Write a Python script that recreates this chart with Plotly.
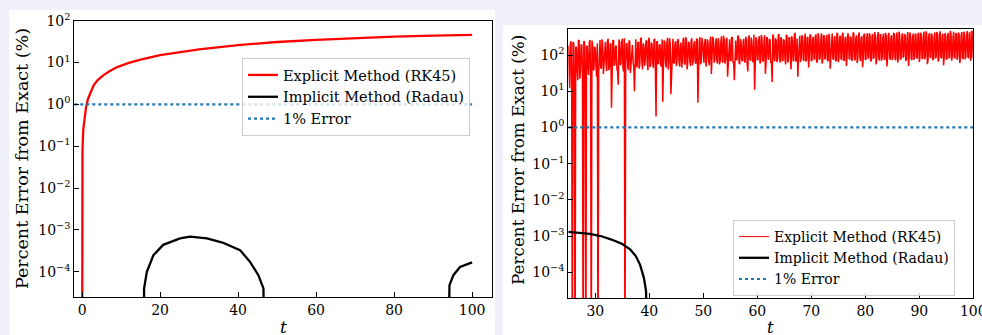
import plotly.graph_objects as go

W, H = 982, 335
FONT = "DejaVu Serif, serif"

# ---------------- data: left panel ----------------
t_exp_left = [0, 0.02, 0.1, 0.3, 0.6, 1.0, 1.5, 2.2, 3, 4, 5.5, 7, 9, 12, 15, 20, 25, 30,
              40, 50, 60, 70, 80, 90, 100]
err_exp_left = [1e-7, 0.015, 0.08, 0.25, 0.5, 0.85, 1.35, 2.0, 2.9, 3.8, 5.0, 6.2, 7.8, 9.8,
                11.8, 15.0, 17.8, 20.7, 26, 31, 35, 38.5, 41.5, 44, 46]

t_imp_left = [0, 15.6, 15.9, 16.6, 18.3, 20.8, 25.1, 27.7, 32, 36, 40.5, 43.1, 45.2, 46.5,
              47.0, 70, 93.5, 94.2, 95.2, 96.9, 100]
err_imp_left = [1e-8, 1e-8, 4e-5, 1e-4, 2.5e-4, 4.4e-4, 6.3e-4, 6.9e-4, 6.3e-4, 5.0e-4, 3.3e-4,
                1.7e-4, 8.3e-5, 4e-5, 1e-8, 1e-8, 1e-8, 4.8e-5, 8.3e-5, 1.3e-4, 1.67e-4]

t_ref_left = [-2, 100]
err_ref = [1, 1]

# ---------------- data: right panel ----------------
# explicit-method error sampled every 0.125 in t from t = 25:
# "on-grid" samples at 25, 25.25, ... and "half-step" samples at 25.125, 25.375, ...
t_start_right = 25.0
t_step_right = 0.25
err_exp_right_grid = [
    180, 12, 240, 1e-7, 210, 1e-7, 160, 20, 250, 35,
    190, 1e-7, 230, 1e-7, 170, 28, 260, 1e-7, 200, 40,
    150, 25, 1e-7, 220, 45, 270, 30, 180, 55, 240,
    38, 200, 3.5, 260, 50, 170, 42, 15, 230, 60,
    280, 35, 1e-7, 210, 48, 250, 32, 190, 65, 10,
    270, 45, 220, 55, 300, 40, 180, 70, 240, 38,
    260, 52, 200, 44, 280, 2.0, 230, 60, 190, 48,
    5.1, 250, 58, 210, 40, 290, 8.3, 240, 62, 200,
    50, 270, 66, 180, 45, 260, 58, 310, 40, 220,
    70, 250, 52, 195, 64, 280, 4.8, 230, 55, 300,
    60, 210, 48, 270, 68, 240, 30, 320, 62, 200,
    72, 290, 55, 230, 66, 340, 58, 260, 25, 220,
    70, 300, 60, 20, 250, 74, 330, 56, 215, 68,
    280, 62, 240, 35, 350, 70, 230, 64, 11, 310,
    72, 260, 58, 360, 66, 240, 30, 300, 75, 270,
    60, 18, 320, 68, 250, 76, 380, 62, 280, 70,
    240, 55, 340, 74, 300, 40, 260, 68, 390, 72,
    25, 290, 64, 350, 78, 250, 66, 310, 45, 370,
    70, 270, 80, 330, 62, 400, 74, 260, 58, 350,
    76, 290, 68, 380, 42, 310, 80, 270, 70, 410,
    64, 300, 78, 360, 72, 280, 50, 390, 82, 320,
    68, 420, 76, 290, 60, 350, 84, 300, 46, 380,
    74, 270, 80, 400, 66, 330, 78, 430, 55, 310,
    82, 360, 70, 290, 76, 410, 48, 340, 84, 300,
    72, 390, 80, 320, 62, 440, 78, 290, 86, 370,
    68, 330, 50, 420, 80, 300, 74, 380, 84, 350,
    64, 410, 82, 310, 76, 450, 56, 340, 88, 390,
    72, 300, 80, 430, 66, 360, 86, 320, 52, 400,
    78, 340, 84, 460, 70, 310, 88, 380, 74, 420,
    60, 350, 86, 440, 76, 330, 90, 400, 70, 450,
    80,
]
err_exp_right_half = [
    30, 200, 15, 230, 25, 170, 40, 260, 22, 190,
    35, 240, 28, 180, 45, 220, 30, 250, 38, 170,
    50, 210, 33, 260, 42, 190, 55, 230, 36, 280,
    48, 200, 40, 250, 58, 180, 35, 270, 52, 220,
    44, 290, 60, 200, 38, 240, 62, 190, 46, 260,
    55, 230, 42, 280, 65, 210, 50, 250, 58, 300,
    47, 220, 63, 260, 40, 240, 56, 190, 52, 270,
    60, 230, 45, 300, 66, 210, 50, 280, 58, 240,
    64, 260, 48, 220, 70, 300, 55, 250, 62, 230,
    50, 290, 68, 240, 57, 270, 45, 310, 66, 220,
    60, 280, 70, 230, 52, 320, 65, 250, 72, 290,
    58, 240, 68, 330, 62, 260, 74, 300, 55, 270,
    70, 310, 64, 250, 76, 340, 60, 280, 72, 230,
    66, 320, 58, 270, 78, 300, 68, 360, 62, 250,
    74, 330, 66, 280, 70, 350, 60, 300, 78, 260,
    68, 370, 72, 290, 64, 340, 80, 310, 70, 270,
    76, 360, 62, 300, 82, 330, 70, 380, 66, 290,
    74, 340, 80, 310, 68, 390, 76, 300, 84, 350,
    70, 320, 78, 370, 66, 300, 82, 400, 72, 340,
    80, 360, 70, 310, 86, 390, 74, 330, 68, 380,
    82, 340, 76, 410, 70, 320, 88, 370, 74, 300,
    84, 390, 72, 350, 80, 420, 68, 330, 86, 370,
    76, 400, 84, 340, 72, 380, 88, 310, 78, 430,
    70, 360, 86, 390, 76, 330, 82, 410, 74, 350,
    88, 380, 72, 420, 84, 340, 78, 400, 90, 360,
    76, 430, 86, 350, 72, 390, 88, 370, 80, 410,
    84, 360, 78, 440, 90, 380, 74, 400, 86, 350,
    80, 420, 88, 370, 76, 450, 84, 390, 90, 360,
    78, 410, 86, 380, 92, 440, 80, 400, 88, 370,
    84, 430, 76, 390, 90, 460, 82, 410, 88, 440,
]
t_exp_right, err_exp_right = [], []
for i, v in enumerate(err_exp_right_grid):
    t_exp_right.append(t_start_right + t_step_right * i)
    err_exp_right.append(v)
    if i < len(err_exp_right_half):
        t_exp_right.append(t_start_right + t_step_right * (i + 0.5))
        err_exp_right.append(err_exp_right_half[i])

t_imp_right = [25, 27, 29, 31, 33, 35, 36.5, 37.5, 38.3, 39, 39.4, 39.7, 60, 100]
err_imp_right = [1.3e-3, 1.25e-3, 1.15e-3, 1.0e-3, 8e-4, 6e-4, 4.2e-4, 2.8e-4, 1.6e-4,
                 7e-5, 3e-5, 1e-8, 1e-8, 1e-8]

t_ref_right = [25, 100]

ytick_vals = [1e-4, 1e-3, 1e-2, 1e-1, 1e0, 1e1, 1e2]
ytick_text = ["10<sup>−4</sup>", "10<sup>−3</sup>", "10<sup>−2</sup>", "10<sup>−1</sup>",
              "10<sup>0</sup>", "10<sup>1</sup>", "10<sup>2</sup>"]
xtick_left = [0, 20, 40, 60, 80, 100]
xtick_right = [30, 40, 50, 60, 70, 80, 90, 100]

names = ["Explicit Method (RK45)", "Implicit Method (Radau)", "1% Error"]
RED, BLACK, BLUE = "#ff0000", "#000000", "#1f77b4"
BG = "#f0f0fa"


def px(x):
    return x / W


def py(y):
    return 1 - y / H


fig = go.Figure()

# left panel
fig.add_trace(go.Scatter(x=t_exp_left, y=err_exp_left, mode="lines", name=names[0],
                         line=dict(color=RED, width=2.3), xaxis="x", yaxis="y", legend="legend"))
fig.add_trace(go.Scatter(x=t_imp_left, y=err_imp_left, mode="lines", name=names[1],
                         line=dict(color=BLACK, width=2.3), xaxis="x", yaxis="y", legend="legend"))
fig.add_trace(go.Scatter(x=t_ref_left, y=err_ref, mode="lines", name=names[2],
                         line=dict(color=BLUE, width=2.2, dash="dot"), xaxis="x", yaxis="y",
                         legend="legend"))

# right panel
fig.add_trace(go.Scatter(x=t_exp_right, y=err_exp_right, mode="lines", name=names[0],
                         line=dict(color=RED, width=1.5), xaxis="x2", yaxis="y2",
                         showlegend=False))
fig.add_trace(go.Scatter(x=[None], y=[None], mode="lines", name=names[0],
                         line=dict(color=RED, width=1), xaxis="x2", yaxis="y2", legend="legend2"))
fig.add_trace(go.Scatter(x=t_imp_right, y=err_imp_right, mode="lines", name=names[1],
                         line=dict(color=BLACK, width=2.3), xaxis="x2", yaxis="y2", legend="legend2"))
fig.add_trace(go.Scatter(x=t_ref_right, y=err_ref, mode="lines", name=names[2],
                         line=dict(color=BLUE, width=2.2, dash="dot"), xaxis="x2", yaxis="y2",
                         legend="legend2"))

axis_common = dict(showline=True, linecolor="black", linewidth=1, mirror=True,
                   ticks="inside", ticklen=5, tickwidth=1, tickcolor="black",
                   showgrid=False, zeroline=False, automargin=False,
                   ticklabeloverflow="allow",
                   tickfont=dict(family=FONT, size=14, color="black"))

legend_common = dict(xanchor="left", yanchor="top",
                     bgcolor="rgba(255,255,255,0.8)", bordercolor="#cccccc", borderwidth=1,
                     itemwidth=30)

fig.update_layout(
    width=W, height=H,
    margin=dict(l=0, r=0, t=0, b=0, autoexpand=False),
    paper_bgcolor=BG,
    plot_bgcolor="white",
    xaxis=dict(domain=[px(74.3), px(492)], range=[-2.0, 105.1], tickvals=xtick_left,
               anchor="y", **axis_common),
    yaxis=dict(domain=[py(297.3), py(20.7)], type="log", range=[-4.61, 2.0],
               tickvals=ytick_vals, ticktext=ytick_text, anchor="x", **axis_common),
    xaxis2=dict(domain=[px(568.3), px(973.3)], range=[24.999, 100.002], tickvals=xtick_right,
                anchor="y2", **axis_common),
    yaxis2=dict(domain=[py(298.3), py(29.3)], type="log", range=[-4.72, 2.71],
                tickvals=ytick_vals, ticktext=ytick_text, anchor="x2", **axis_common),
    legend=dict(x=px(242), y=py(58), font=dict(family=FONT, size=14.5, color="black"),
                **legend_common),
    legend2=dict(x=px(733), y=py(220), font=dict(family=FONT, size=14, color="black"),
                 **legend_common),
    shapes=[
        dict(type="rect", xref="paper", yref="paper", x0=px(9), x1=px(495), y0=0, y1=py(10),
             fillcolor="white", line=dict(width=0), layer="below"),
        dict(type="rect", xref="paper", yref="paper", x0=px(503), x1=1, y0=0, y1=py(25),
             fillcolor="white", line=dict(width=0), layer="below"),
    ],
    annotations=[
        dict(text="Percent Error from Exact (%)", textangle=-90, x=px(22), y=py(159),
             xref="paper", yref="paper", xanchor="center", yanchor="middle", showarrow=False,
             font=dict(family=FONT, size=17.5, color="black")),
        dict(text="Percent Error from Exact (%)", textangle=-90, x=px(518), y=py(160),
             xref="paper", yref="paper", xanchor="center", yanchor="middle", showarrow=False,
             font=dict(family=FONT, size=16.8, color="black")),
        dict(text="<i>t</i>", x=px(283), y=py(327), xref="paper", yref="paper",
             xanchor="center", yanchor="middle", showarrow=False,
             font=dict(family=FONT, size=17, color="black")),
        dict(text="<i>t</i>", x=px(770.8), y=py(327), xref="paper", yref="paper",
             xanchor="center", yanchor="middle", showarrow=False,
             font=dict(family=FONT, size=16.5, color="black")),
    ],
)

fig.write_html(
    "out.html",
    config={"displayModeBar": False},
    post_script=("document.body.style.margin='0';document.body.style.padding='0';"
                 "document.body.style.overflow='hidden';"
                 "document.body.style.background='" + BG + "';"),
)
